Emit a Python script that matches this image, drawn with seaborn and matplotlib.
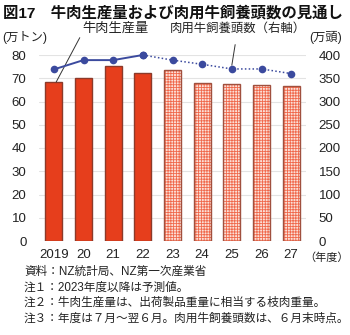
import matplotlib
matplotlib.use("Agg")
import matplotlib.pyplot as plt
from matplotlib.patches import Rectangle
import seaborn as sns
import pandas as pd

# Fiscal years (Jul-Jun); 2023 onward are forecasts
years = ["2019", "20", "21", "22", "23", "24", "25", "26", "27"]
beef_output = [68.4, 70.0, 75.1, 72.1, 73.5, 68.1, 67.7, 67.1, 66.5]   # 10k tonnes
herd_size = [369, 389, 389, 400, 389, 380, 370, 370, 360]              # 10k head
forecast_from = "23"

left_ticks = [0, 10, 20, 30, 40, 50, 60, 70, 80]
right_ticks = [0, 50, 100, 150, 200, 250, 300, 350, 400]

title = "図17　牛肉生産量および肉用牛飼養頭数の見通し"
notes = [
    "資料：NZ統計局、NZ第一次産業省",
    "注１：2023年度以降は予測値。",
    "注２：牛肉生産量は、出荷製品重量に相当する枝肉重量。",
    "注３：年度は７月～翌６月。肉用牛飼養頭数は、６月末時点。",
]

sns.set_theme(style="white")
plt.rcParams["font.family"] = ["Liberation Sans", "Noto Sans CJK JP", "DejaVu Sans"]
plt.rcParams["hatch.linewidth"] = 0.6

BAR_RED = "#e63e1c"
BAR_EDGE = "#8c3a2a"
HATCH_FILL = "#fce0d8"
HATCH_LINE = "#f0694c"
LINE_BLUE = "#3b4a9e"
GRID = "#e3e3e3"
TEXT = "#222222"

df = pd.DataFrame({"year": years, "beef": beef_output, "herd": herd_size})
df["pos"] = range(len(df))
first_fc = years.index(forecast_from)

fig = plt.figure(figsize=(3.5, 3.35), dpi=100)
ax = fig.add_axes([39 / 350, 94 / 335, 267 / 350, 186 / 335])

sns.barplot(data=df, x="year", y="beef", order=years, color=BAR_RED,
            width=0.57, saturation=1, edgecolor=BAR_EDGE, linewidth=1.0, ax=ax)

for i, p in enumerate(ax.patches):
    if i >= first_fc:
        p.set_facecolor(HATCH_FILL)
        p.set_hatch("++++++")
        p.set_edgecolor(HATCH_LINE)
        p.set_linewidth(0)
        ax.add_patch(Rectangle(p.get_xy(), p.get_width(), p.get_height(),
                               fill=False, edgecolor="#a0503e", linewidth=1.0,
                               zorder=p.get_zorder() + 0.1))

ax.set_xlim(-0.5, len(years) - 0.5)
ax.set_ylim(0, 80)
ax.set_yticks(left_ticks)
ax.yaxis.grid(True, color=GRID, linewidth=0.8)
ax.set_axisbelow(True)
for s in ax.spines.values():
    s.set_visible(False)
ax.set_xlabel("")
ax.set_ylabel("")
ax.tick_params(axis="y", length=0, pad=9, labelsize=9.5, labelcolor=TEXT)
ax.tick_params(axis="x", length=0, pad=6, labelsize=9.5, labelcolor=TEXT)

# Herd size on the right axis: actuals solid, forecasts dotted
ax2 = ax.twinx()
actual = df[df["pos"] <= first_fc - 1]
fc = df[df["pos"] >= first_fc - 1]
sns.lineplot(data=actual, x="pos", y="herd", color=LINE_BLUE, linewidth=1.4,
             marker="o", markersize=5.5, markeredgewidth=0, ax=ax2, clip_on=False)
sns.lineplot(data=fc, x="pos", y="herd", color=LINE_BLUE, linewidth=1.1,
             linestyle=(0, (1, 1.5)), marker="o", markersize=5.5,
             markeredgewidth=0, ax=ax2, clip_on=False)
ax2.set_ylim(0, 400)
ax2.set_yticks(right_ticks)
ax2.set_xlim(-0.5, len(years) - 0.5)
for s in ax2.spines.values():
    s.set_visible(False)
ax2.set_xlabel("")
ax2.set_ylabel("")
ax2.grid(False)
ax2.tick_params(axis="y", length=0, pad=9, labelsize=9.5, labelcolor=TEXT)

# Unit labels
fig.text(2.5 / 350, 1 - 37 / 335, "(万トン)", ha="left", va="center",
         fontsize=8.8, color=TEXT)
fig.text(326 / 350, 1 - 37 / 335, "(万頭)", ha="center", va="center",
         fontsize=8.8, color=TEXT)
ax.annotate("（年度）", xy=(1.0, 0), xycoords="axes fraction",
            xytext=(-1, -12), textcoords="offset points",
            ha="left", va="center", fontsize=8, color=TEXT)

# Series call-outs
ax.annotate("牛肉生産量", xy=(0.08, beef_output[0]), xycoords="data",
            xytext=(0.95, 91.5), textcoords="data", ha="left", va="center",
            fontsize=9.5, color=TEXT, annotation_clip=False,
            arrowprops=dict(arrowstyle="-", color="#333333", lw=0.7,
                            shrinkA=0, shrinkB=0,
                            connectionstyle="angle,angleA=0,angleB=62,rad=0"))
ax2.annotate("肉用牛飼養頭数（右軸）", xy=(6, herd_size[6] + 8), xycoords="data",
             xytext=(6.2, 457), textcoords="data", ha="center", va="center",
             fontsize=8.9, color=TEXT, annotation_clip=False,
             arrowprops=dict(arrowstyle="-", color="#333333", lw=0.7,
                             shrinkA=5, shrinkB=0))

fig.text(3 / 350, 1 - 13 / 335, title, ha="left", va="center",
         fontsize=11.1, fontweight="bold", color="#111111")

for k, line in enumerate(notes):
    fig.text(24 / 350, 1 - (272 + 15.5 * k) / 335, line, ha="left", va="center",
             fontsize=8.4, color=TEXT)

fig.savefig("out.png", dpi=100, facecolor="white")
